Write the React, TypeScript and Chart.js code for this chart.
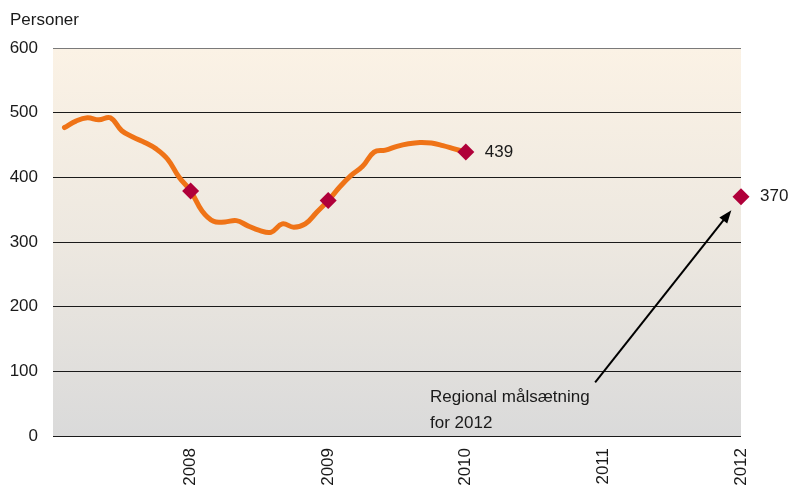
import React, { useEffect, useRef } from "react";
import { Chart, registerables } from "chart.js";

Chart.register(...registerables);

// Monthly series, Jan 2007 (month 1) .. Dec 2009 (month 36)
const monthIndex = [
  1, 2, 3, 4, 5, 6, 7, 8, 9, 10, 11, 12,
  13, 14, 15, 16, 17, 18, 19, 20, 21, 22, 23, 24,
  25, 26, 27, 28, 29, 30, 31, 32, 33, 34, 35, 36,
];
const personer = [
  477, 487, 492, 489, 492, 472, 462, 454, 444, 428, 400, 379,
  348, 332, 331, 333, 325, 318, 315, 328, 323, 328, 346, 364,
  385, 403, 417, 439, 442, 448, 452, 454, 453, 449, 444, 439,
];
const startYear = 2007;

const markerYears = [2008, 2009, 2010, 2012];
const markerValues = [379, 364, 439, 370];
const labelledMarkers = ["", "", "439", "370"];

const xTicks = [2008, 2009, 2010, 2011, 2012];
const yTicks = [0, 100, 200, 300, 400, 500, 600];

const annotationLines = ["Regional målsætning", "for 2012"];
const annotationPos = { x: 2009.74, y1: 60, y2: 20 };
const arrowFrom = { x: 2010.94, y: 83 };
const arrowTo = { x: 2011.93, y: 349 };

const FONT = "'Liberation Sans', Arial, sans-serif";

export default function App() {
  const ref = useRef<HTMLCanvasElement>(null);

  useEffect(() => {
    if (!ref.current) return;

    const bgPlugin = {
      id: "bg",
      beforeDraw(chart: any) {
        const { ctx, chartArea: a } = chart;
        const g = ctx.createLinearGradient(0, a.top, 0, a.bottom);
        g.addColorStop(0, "#FBF2E5");
        g.addColorStop(0.5, "#EDE8E0");
        g.addColorStop(1, "#DADADA");
        ctx.save();
        ctx.fillStyle = g;
        ctx.fillRect(a.left, a.top, a.right - a.left, a.bottom - a.top);
        ctx.restore();
      },
    };

    const annoPlugin = {
      id: "anno",
      afterDraw(chart: any) {
        const { ctx } = chart;
        const xs = chart.scales.x;
        const ys = chart.scales.y;
        ctx.save();
        ctx.fillStyle = "#1a1a1a";
        ctx.font = `17px ${FONT}`;
        ctx.textBaseline = "middle";
        ctx.textAlign = "left";
        // axis title
        ctx.fillText("Personer", 10, 20);
        // value labels
        markerYears.forEach((yr, i) => {
          if (!labelledMarkers[i]) return;
          ctx.fillText(
            labelledMarkers[i],
            xs.getPixelForValue(yr) + 19,
            ys.getPixelForValue(markerValues[i])
          );
        });
        // annotation text
        const tx = xs.getPixelForValue(annotationPos.x);
        ctx.fillText(annotationLines[0], tx, ys.getPixelForValue(annotationPos.y1));
        ctx.fillText(annotationLines[1], tx, ys.getPixelForValue(annotationPos.y2));
        // arrow
        const x1 = xs.getPixelForValue(arrowFrom.x);
        const y1 = ys.getPixelForValue(arrowFrom.y);
        const x2 = xs.getPixelForValue(arrowTo.x);
        const y2 = ys.getPixelForValue(arrowTo.y);
        const ang = Math.atan2(y2 - y1, x2 - x1);
        const hl = 13;
        const hw = 5;
        ctx.strokeStyle = "#000";
        ctx.lineWidth = 2;
        ctx.beginPath();
        ctx.moveTo(x1, y1);
        ctx.lineTo(x2 - Math.cos(ang) * hl * 0.8, y2 - Math.sin(ang) * hl * 0.8);
        ctx.stroke();
        ctx.fillStyle = "#000";
        ctx.beginPath();
        ctx.moveTo(x2, y2);
        const bx = x2 - Math.cos(ang) * hl;
        const by = y2 - Math.sin(ang) * hl;
        ctx.lineTo(bx + Math.sin(ang) * hw, by - Math.cos(ang) * hw);
        ctx.lineTo(bx - Math.sin(ang) * hw, by + Math.cos(ang) * hw);
        ctx.closePath();
        ctx.fill();
        ctx.restore();
      },
    };

    const chart = new Chart(ref.current, {
      type: "line",
      data: {
        datasets: [
          {
            label: "Personer",
            data: monthIndex.map((m, i) => ({ x: startYear + m / 12, y: personer[i] })),
            borderColor: "#EF7317",
            borderWidth: 5,
            pointRadius: 0,
            tension: 0.4,
            fill: false,
            borderCapStyle: "round",
            borderJoinStyle: "round",
            order: 2,
          },
          {
            label: "Markers",
            data: markerYears.map((yr, i) => ({ x: yr, y: markerValues[i] })),
            showLine: false,
            pointStyle: "rectRot",
            pointRadius: 8.5,
            pointBackgroundColor: "#B0003A",
            pointBorderColor: "#B0003A",
            pointBorderWidth: 0,
            clip: false as any,
            order: 1,
          },
        ],
      },
      options: {
        animation: false,
        responsive: false,
        maintainAspectRatio: false,
        events: [],
        layout: { padding: { top: 48, right: 48, left: 0, bottom: 0 } },
        plugins: {
          legend: { display: false },
          tooltip: { enabled: false },
          title: { display: false },
        },
        scales: {
          x: {
            type: "linear",
            min: 2007,
            max: 2012,
            grid: { display: false, drawTicks: false },
            border: { display: false },
            afterBuildTicks: (s: any) => {
              s.ticks = xTicks.map((v) => ({ value: v }));
            },
            afterFit: (s: any) => {
              s.height = 52;
            },
            ticks: {
              minRotation: 90,
              maxRotation: 90,
              padding: 12,
              color: "#1a1a1a",
              font: { family: FONT, size: 17 },
              callback: (v: any) => String(v),
            },
          },
          y: {
            min: 0,
            max: 600,
            afterBuildTicks: (s: any) => {
              s.ticks = yTicks.map((v) => ({ value: v }));
            },
            afterFit: (s: any) => {
              s.width = 53;
            },
            grid: {
              drawTicks: false,
              color: (c: any) => (c.tick && c.tick.value === 600 ? "#7a7a7a" : "#1a1a1a"),
              lineWidth: 1,
            },
            border: { display: false },
            ticks: {
              padding: 15,
              color: "#1a1a1a",
              font: { family: FONT, size: 17 },
              callback: (v: any) => String(v),
            },
          },
        },
      },
      plugins: [bgPlugin, annoPlugin],
    } as any);

    return () => chart.destroy();
  }, []);

  return (
    <div style={{ position: "fixed", left: 0, top: 0, width: 789, height: 488, background: "#fff" }}>
      <canvas ref={ref} width={789} height={488} style={{ width: 789, height: 488, display: "block" }} />
    </div>
  );
}
